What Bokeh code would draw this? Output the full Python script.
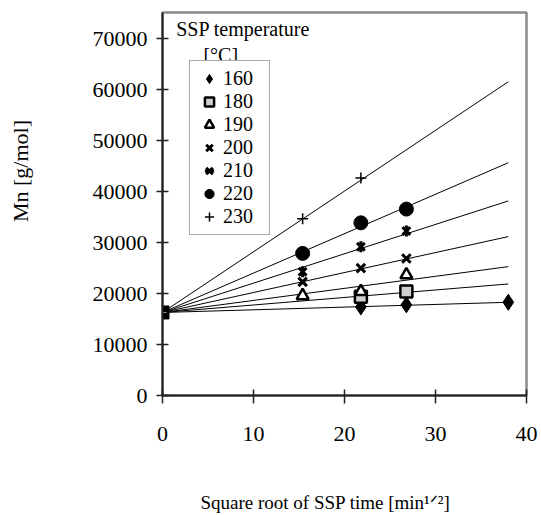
import math
from bokeh.plotting import figure
from bokeh.models import Label, Legend, LegendItem, Range1d
from bokeh.embed import file_html
from bokeh.resources import INLINE
from bokeh.core.properties import value

# ---- data ----
temps = ["160", "180", "190", "200", "210", "220", "230"]
start_x = [0.0]
start_mn = [16300]

x_160 = [21.8, 26.8, 38.0]
mn_160 = [17400, 17800, 18300]
x_180 = [21.8, 26.8]
mn_180 = [19400, 20400]
x_190 = [15.4, 21.8, 26.8]
mn_190 = [19600, 20400, 23700]
x_200 = [15.4, 21.8, 26.8]
mn_200 = [22300, 25000, 26900]
x_210 = [15.4, 21.8, 26.8]
mn_210 = [24300, 29200, 32300]
x_220 = [15.4, 21.8, 26.8]
mn_220 = [27900, 33900, 36600]
x_230 = [15.4, 21.8]
mn_230 = [34700, 42700]

fit_x_end = 38.0
fit_mn_end = [18300, 21900, 25300, 31200, 38200, 45700, 61600]

x_ticks = [0, 10, 20, 30, 40]
y_ticks = [0, 10000, 20000, 30000, 40000, 50000, 60000, 70000]

FONT = "Liberation Serif"
NB = "\u00a0"

p = figure(width=541, height=515, x_range=Range1d(0, 40), y_range=Range1d(0, 75200),
           output_backend="svg", toolbar_location=None,
           min_border_left=162, min_border_right=15, min_border_top=12, min_border_bottom=119)
p.xgrid.visible = False
p.ygrid.visible = False
p.background_fill_color = "white"
p.outline_line_color = "#8a8a8a"
p.outline_line_width = 2.5

p.xaxis.ticker = x_ticks
p.yaxis.ticker = y_ticks
for ax in (p.xaxis, p.yaxis):
    ax.axis_line_color = "#222222"
    ax.axis_line_width = 2
    ax.major_tick_line_color = "#222222"
    ax.major_tick_line_width = 1.5
    ax.minor_tick_line_color = None
    ax.major_label_text_font = FONT
    ax.major_label_text_font_size = "22px"
    ax.major_label_text_color = "black"
    ax.axis_label_text_font = FONT
    ax.axis_label_text_font_style = "normal"
    ax.axis_label_text_color = "black"
p.yaxis.major_tick_in = 6
p.yaxis.major_tick_out = 6
p.yaxis.major_label_standoff = 9
p.xaxis.major_tick_in = 6
p.xaxis.major_tick_out = 8
p.xaxis.major_label_standoff = 23

p.yaxis.axis_label = NB * 12 + "Mn [g/mol]"
p.yaxis.axis_label_text_font_size = "22px"
p.yaxis.axis_label_standoff = 57
p.xaxis.axis_label = "Square root of SSP time [min\u00b9\u141f\u00b2]" + NB * 8
p.xaxis.axis_label_text_font_size = "19px"
p.xaxis.axis_label_standoff = 48

# fitted lines
n = len(fit_mn_end)
p.segment(x0=start_x * n, y0=start_mn * n, x1=[fit_x_end] * n, y1=fit_mn_end,
          line_color="black", line_width=1)

# markers
r160 = p.scatter(x_160, mn_160, marker="diamond", size=16, fill_color="black", line_color="black")
r180 = p.scatter(x_180, mn_180, marker="square", size=12, fill_color="#d0d0d0",
                 line_color="black", line_width=2.5)
r190 = p.scatter(x_190, mn_190, marker="triangle", size=12, fill_color="white",
                 line_color="black", line_width=2.5)
r200 = p.scatter(x_200, mn_200, marker="x", size=12, line_color="black", line_width=3)
r210a = p.scatter(x_210, mn_210, marker="x", size=11, line_color="black", line_width=3)
r210b = p.scatter(x_210, mn_210, marker="dash", angle=math.pi / 2, size=11,
                  line_color="black", line_width=3)
r220 = p.scatter(x_220, mn_220, marker="circle", size=14, fill_color="black", line_color="black")
r230 = p.scatter(x_230, mn_230, marker="cross", size=11, line_color="black", line_width=1.5)

# common start point
p.scatter(start_x, start_mn, marker="square", size=13, fill_color="black", line_color="black")
p.scatter(start_x, start_mn, marker="cross", size=8, line_color="#9a9a9a", line_width=1)

renderers = [[r160], [r180], [r190], [r200], [r210a, r210b], [r220], [r230]]
items = [LegendItem(label=value(t), renderers=r) for t, r in zip(temps, renderers)]
legend = Legend(items=items, location=(27, 160), orientation="vertical",
                label_text_font=FONT, label_text_font_size="20px", label_text_color="black",
                glyph_width=26, glyph_height=23, label_height=20, label_width=40,
                spacing=0, padding=6, margin=0, label_standoff=1,
                border_line_color="#555555", border_line_width=1,
                background_fill_color="white", background_fill_alpha=1)
p.add_layout(legend)

# legend title
p.add_layout(Label(x=1.5, y=71900, text="SSP temperature", text_font=FONT, text_color="black",
                   text_font_size="20px", text_baseline="middle", text_align="left"))
p.add_layout(Label(x=4.5, y=66800, text="[°C]", text_font=FONT, text_color="black",
                   text_font_size="20px", text_baseline="middle", text_align="left"))

open("out.html", "w").write(file_html(p, INLINE))
